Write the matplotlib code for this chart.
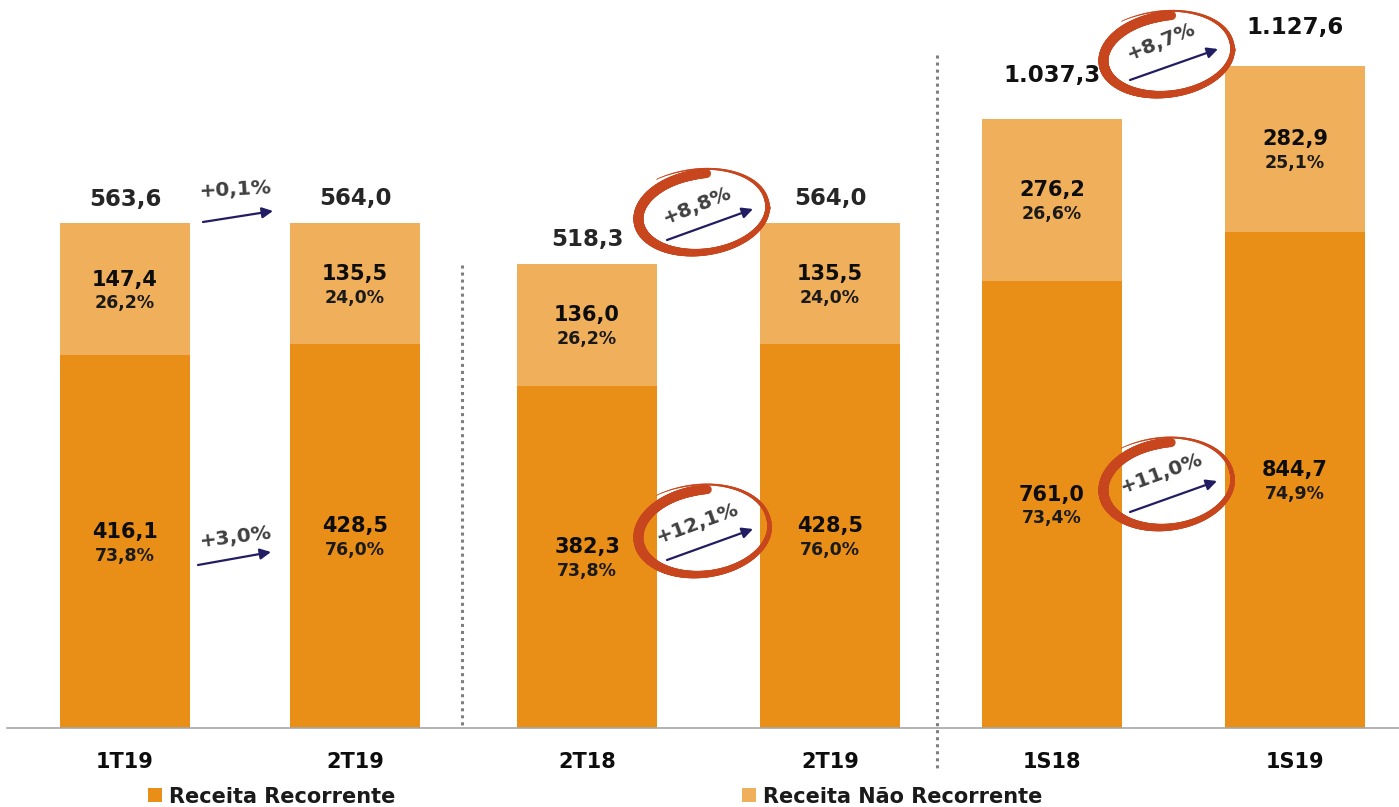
import numpy as np
import matplotlib
matplotlib.use('Agg')
import matplotlib.pyplot as plt
from matplotlib.collections import LineCollection
from matplotlib.lines import Line2D
from matplotlib.patches import FancyArrowPatch, Rectangle

plt.rcParams['font.family'] = ['DejaVu Sans']

# data
categories = ['1T19', '2T19', '2T18', '2T19', '1S18', '1S19']
recorrente = [416.1, 428.5, 382.3, 428.5, 761.0, 844.7]
nao_recorrente = [147.4, 135.5, 136.0, 135.5, 276.2, 282.9]
totais = [563.6, 564.0, 518.3, 564.0, 1037.3, 1127.6]
legend_labels = ['Receita Recorrente', 'Receita Não Recorrente']

# colours
c_rec = '#E98F17'
c_nrec = '#F0AF5B'
c_red = '#C8461E'
c_arrow = '#221D63'

W, H = 1399, 807
fig = plt.figure(figsize=(W / 100, H / 100), dpi=100)


def fx(x, y):
    # reference pixel (y from top) -> figure fraction
    return x / W, (H - y) / H


def br(v, dec=1):
    s = f"{v:,.{dec}f}"
    return s.replace(',', 'X').replace('.', ',').replace('X', '.')


# layout of the three groups (pixels)
spans = [(0, 462), (462, 937), (937, 1399)]
centers = [(125, 355), (587, 830), (1052, 1295)]
widths = [130, 140, 140]
ytops = [813, 813, 1240]
base_y = 728
tot_off = [24, 24, 24, 24, 44, 38]

for g in range(3):
    l, r = spans[g]
    c0, c1 = centers[g]
    unit = c1 - c0
    ax = fig.add_axes([l / W, (H - base_y) / H, (r - l) / W, base_y / H])
    ax.set_xlim((l - c0) / unit, (r - c0) / unit)
    ax.set_ylim(0, ytops[g])
    idx = [2 * g, 2 * g + 1]
    xs = np.arange(2)
    rec = np.array([recorrente[i] for i in idx])
    nrec = np.array([nao_recorrente[i] for i in idx])
    bw = widths[g] / unit
    ax.bar(xs, rec, bw, color=c_rec, zorder=2)
    ax.bar(xs, nrec, bw, bottom=rec, color=c_nrec, zorder=2)
    for k, i in enumerate(idx):
        tot = totais[i]
        mid_r = rec[k] / 2
        mid_n = rec[k] + nrec[k] / 2
        ax.annotate(br(rec[k]), (k, mid_r), xytext=(0, 7), textcoords='offset points',
                    ha='center', va='center', fontsize=15, fontweight='bold', color='#0D0D0D')
        ax.annotate(br(100 * rec[k] / tot) + '%', (k, mid_r), xytext=(0, -10),
                    textcoords='offset points', ha='center', va='center', fontsize=12.5,
                    fontweight='bold', color='#1A1A1A')
        ax.annotate(br(nrec[k]), (k, mid_n), xytext=(0, 7), textcoords='offset points',
                    ha='center', va='center', fontsize=15, fontweight='bold', color='#0D0D0D')
        ax.annotate(br(100 * nrec[k] / tot) + '%', (k, mid_n), xytext=(0, -10),
                    textcoords='offset points', ha='center', va='center', fontsize=12.5,
                    fontweight='bold', color='#1A1A1A')
        ax.annotate(br(tot), (k, rec[k] + nrec[k]), xytext=(0, tot_off[i] * 0.72),
                    textcoords='offset points', ha='center', va='center', fontsize=16.5,
                    fontweight='bold', color='#262626' if g < 2 else '#111111')
    ax.set_xticks(xs)
    ax.set_xticklabels([categories[i] for i in idx], fontsize=15, fontweight='bold',
                       color='#0D0D0D')
    ax.tick_params(axis='x', length=0, pad=17)
    ax.set_yticks([])
    for s in ax.spines.values():
        s.set_visible(False)
    ax.patch.set_alpha(0)

# baseline and separators
fig.add_artist(Line2D([fx(7, 0)[0], 1], [fx(0, base_y)[1]] * 2, color='#A6A6A6', lw=1.2,
                      transform=fig.transFigure, zorder=3))
for x, y0, y1 in [(462, 265, 728), (937, 55, 770)]:
    fig.add_artist(Line2D([x / W] * 2, [fx(0, y0)[1], fx(0, y1)[1]], color='#7F7F7F',
                          lw=2.2, linestyle=(0, (1, 1.3)), transform=fig.transFigure))

# variation labels and arrows
var_idx = [(0, 1), (2, 3), (4, 5)]
var_total = [100 * (totais[b] / totais[a] - 1) for a, b in var_idx]
var_rec = [100 * (recorrente[b] / recorrente[a] - 1) for a, b in var_idx]

arrows_top = [((203, 222), (273, 211)), ((667, 240), (753, 209)), ((1130, 80), (1218, 49))]
arrows_bot = [((198, 565), (271, 552)), ((667, 560), (753, 529)), ((1130, 512), (1217, 481))]
lab_top = [((236, 190), 3), ((697, 206), 22), ((1161, 42), 22)]
lab_bot = [((236, 537), 7), ((698, 523), 20), ((1162, 473), 20)]
circ_top = [None, (703, 213, 130, 78, 8), (1168, 55, 130, 78, 8)]
circ_bot = [None, (704, 532, 132, 84, 8), (1168, 485, 130, 84, 8)]


def swoosh(cx, cy, w, h, ang):
    deg = np.linspace(82, 482, 400)
    t = np.deg2rad(deg)
    grow = 1 + 0.2 * np.clip((deg - 365) / 115, 0, 1) ** 1.3
    a, b = w / 2 * grow, h / 2 * grow
    x, y = a * np.cos(t), b * np.sin(t)
    th = np.deg2rad(ang)
    xr = x * np.cos(th) - y * np.sin(th)
    yr = x * np.sin(th) + y * np.cos(th)
    X = (cx + xr) / W
    Y = (H - cy + yr) / H
    pts = np.column_stack([X, Y]).reshape(-1, 1, 2)
    segs = np.concatenate([pts[:-1], pts[1:]], axis=1)
    lw_px = np.interp(deg[:-1], [82, 95, 190, 270, 360, 420, 482],
                      [9, 10, 10, 7, 4.5, 2.5, 0.7])
    lc = LineCollection(segs, linewidths=lw_px * 0.72, colors=c_red,
                        transform=fig.transFigure, capstyle='round', zorder=4)
    fig.add_artist(lc)


for g in range(3):
    for (p0, p1), (pos, rot), val, circ in [
            (arrows_top[g], lab_top[g], var_total[g], circ_top[g]),
            (arrows_bot[g], lab_bot[g], var_rec[g], circ_bot[g])]:
        if circ is not None:
            swoosh(*circ)
        fig.add_artist(FancyArrowPatch(fx(*p0), fx(*p1), transform=fig.transFigure,
                                       arrowstyle='-|>', mutation_scale=16, lw=1.6,
                                       color=c_arrow, shrinkA=0, shrinkB=0, zorder=5))
        fig.text(*fx(*pos), '+' + br(val) + '%', ha='center', va='center', rotation=rot,
                 fontsize=14.5, fontweight='bold', color='#404040', zorder=6)

# legend
for (x0, xt), col, lab in zip([(148, 169), (742, 763)], [c_rec, c_nrec], legend_labels):
    fig.add_artist(Rectangle(fx(x0, 802), 14 / W, 14 / H, transform=fig.transFigure,
                             color=col, lw=0))
    fig.text(*fx(xt, 803), lab, ha='left', va='baseline', fontsize=15, fontweight='bold',
             color='#1A1A1A')

fig.savefig('out.png', dpi=100)
